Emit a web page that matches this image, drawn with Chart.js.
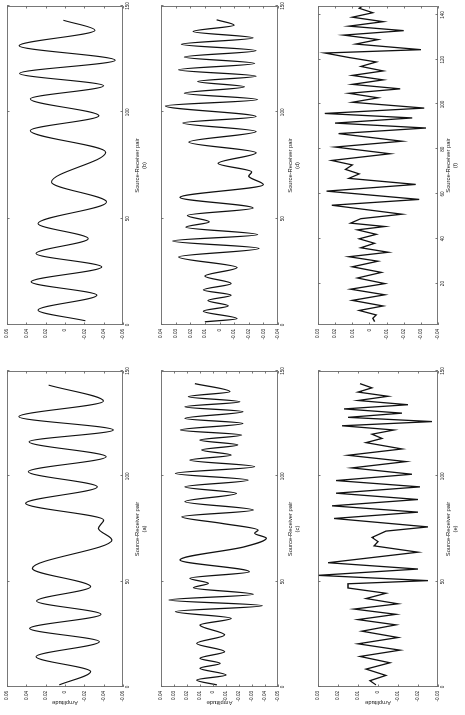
<!DOCTYPE html>
<html>
<head>
<meta charset="utf-8">
<script src="https://cdn.jsdelivr.net/npm/chart.js@4.4.1/dist/chart.umd.min.js"></script>
<style>
  html, body { margin: 0; padding: 0; background: #fff; overflow: hidden; }
  /* the figure is laid out upright (715 x 465) and turned a quarter left */
  #fig { position: absolute; left: 0; top: 0; width: 715px; height: 465px;
         transform-origin: 0 0; transform: translate(0, 715px) rotate(-90deg); }
  #fig canvas { position: absolute; }
</style>
</head>
<body>
<div id="fig">
  <canvas id="ca"></canvas><canvas id="cb"></canvas>
  <canvas id="cc"></canvas><canvas id="cd"></canvas>
  <canvas id="ce"></canvas><canvas id="cf"></canvas>
</div>
<script>
// (a)
const aX = [1, 7.3, 14.4, 21.5, 27.8, 34.5, 40.8, 47.6, 56.3, 69.8, 75.3, 79.3, 87.2, 95, 102.2, 109.3, 116.4, 122, 128.3, 135.7, 143.3];
const aY = [0.006, -0.0265, 0.030, -0.0356, 0.0366, -0.0373, 0.0295, -0.0265, 0.0337, -0.0485, -0.0345, -0.040, 0.0407, -0.0335, 0.038, -0.0426, 0.0373, -0.050, 0.0478, -0.0398, 0.017];
// (b)
const bX = [2, 7, 14, 20.3, 27.3, 33.6, 40.6, 47.7, 57.8, 67.2, 81.3, 91.4, 98.4, 106.3, 112.5, 118.3, 124.5, 131.3, 138.6, 143.3];
const bY = [-0.021, 0.028, -0.033, 0.035, -0.038, 0.030, -0.024, 0.028, -0.043, 0.014, -0.042, 0.036, -0.035, 0.036, -0.040, 0.047, -0.052, 0.0475, -0.031, 0.0017];
// (c)
const cX = [1, 3.3, 5.7, 8.9, 11.2, 13.6, 16.8, 20.7, 24.7, 29.4, 32.6, 35.8, 38.6, 41.3, 44, 47.1, 49.2, 51.6, 54.7, 60.3, 66.6, 70.6, 73, 74.5, 77.7, 80.8, 84, 88, 91.9, 95, 98.2, 101.4, 104.6, 107.7, 110.1, 112.5, 114.9, 117.2, 119.6, 122, 125.1, 127.5, 130.7, 133, 135.4, 137.8, 140.2, 144];
const cY = [-0.003, 0.0126, -0.010, 0.010, -0.0055, 0.010, -0.009, 0.0126, -0.009, 0.010, -0.014, 0.029, -0.038, 0.034, -0.031, 0.015, 0.0036, 0.0178, -0.028, 0.0254, -0.0244, -0.041, -0.032, -0.0347, -0.0065, 0.024, -0.031, 0.0216, -0.018, 0.0216, -0.027, 0.029, -0.032, 0.0178, -0.014, 0.0088, -0.019, 0.010, -0.022, 0.025, -0.023, 0.0216, -0.023, 0.0216, -0.0206, 0.019, -0.013, 0.014];
// (d)
const dX = [1.5, 3, 6.5, 9, 11.5, 14, 16.5, 19.5, 23, 27, 32, 36, 39.5, 42.5, 46, 48.5, 51.5, 55, 60, 66, 70, 72, 76, 81, 86, 91, 95, 98, 103, 106, 109, 112, 114.5, 117, 120, 123, 126, 129, 132, 135, 138, 141, 143.5];
const dY = [0.010, -0.012, 0.011, -0.006, 0.008, -0.008, 0.011, -0.008, 0.010, -0.012, 0.028, -0.027, 0.032, -0.026, 0.023, 0.007, 0.022, -0.023, 0.027, -0.030, -0.020, -0.022, 0.001, -0.025, 0.021, -0.025, 0.025, -0.025, 0.037, -0.026, 0.024, -0.017, 0.015, -0.025, 0.028, -0.024, 0.024, -0.025, 0.026, -0.023, 0.018, -0.010, 0.002];
// (e)
const eX = [1, 3, 5.5, 8.5, 11.5, 14.5, 17.5, 20.5, 23.5, 26.5, 29.5, 32, 34.5, 37, 39.5, 42, 44.5, 47, 49, 50.5, 53, 56, 59, 64, 67, 69, 71, 74, 76, 80, 83, 86, 89, 92, 95, 98, 101, 104, 107, 110, 113, 116, 118, 120, 122, 124, 126, 128, 130, 132, 134, 136, 138, 140, 142, 144];
const eY = [0.001, 0.004, -0.004, 0.006, -0.006, 0.009, -0.011, 0.010, -0.010, 0.008, -0.009, 0.010, -0.009, 0.012, -0.010, 0.006, -0.004, 0.015, 0.015, -0.025, 0.030, -0.020, 0.025, -0.020, 0.002, 0.000, 0.003, -0.004, -0.025, 0.022, -0.020, 0.023, -0.020, 0.021, -0.021, 0.021, -0.017, 0.013, -0.014, 0.015, -0.012, 0.006, -0.002, 0.003, -0.008, 0.018, -0.027, 0.015, -0.012, 0.017, -0.015, 0.010, -0.005, 0.010, 0.003, 0.009];
// (f)
const fX = [3, 4.5, 6, 8, 10, 12.5, 15, 17.5, 20, 22.5, 25, 27.5, 30, 32, 34, 36, 38, 40, 42, 44, 45.5, 47, 49, 51, 55, 57.6, 61.3, 64.3, 67, 69, 71, 73, 75, 78, 81, 83.6, 87, 89.5, 91.7, 94, 96, 98.4, 101, 103, 105, 107, 109, 111, 113, 115, 117, 119, 121, 123, 124.5, 127, 129, 131, 133, 135, 137, 139, 141, 143, 144];
const fY = [-0.003, -0.002, -0.004, 0.006, -0.008, 0.010, -0.009, 0.011, -0.009, 0.007, -0.007, 0.010, -0.005, 0.012, -0.011, 0.005, -0.003, 0.006, -0.004, 0.007, -0.009, 0.011, 0.005, -0.019, 0.022, -0.029, 0.025, -0.027, 0.012, 0.006, 0.014, 0.010, 0.022, -0.012, 0.020, -0.019, 0.018, -0.033, 0.020, -0.025, 0.026, -0.032, 0.010, -0.005, 0.012, -0.018, 0.010, -0.008, 0.010, -0.008, 0.005, -0.004, 0.012, 0.026, -0.030, 0.008, -0.005, 0.015, -0.020, 0.012, -0.008, 0.010, -0.002, 0.006, 0.004];

const xTicks = [0, 50, 100, 150];
const xTicksF = [20, 40, 60, 80, 100, 120, 140];

const FONT = 'Liberation Sans, Arial, sans-serif';

// Matlab-like box with inward ticks on all four sides
const boxTicks = {
  id: 'boxTicks',
  afterDatasetsDraw(chart) {
    const { ctx, chartArea: a, scales: { x, y } } = chart;
    const L = 2.5;
    ctx.save();
    ctx.strokeStyle = '#6a6a6a';
    ctx.lineWidth = 0.9;
    ctx.strokeRect(a.left + 0.5, a.top + 0.5, a.right - a.left - 1, a.bottom - a.top - 1);
    ctx.beginPath();
    x.ticks.forEach(t => {
      const p = Math.round(x.getPixelForValue(t.value)) + 0.5;
      ctx.moveTo(p, a.bottom); ctx.lineTo(p, a.bottom - L);
      ctx.moveTo(p, a.top); ctx.lineTo(p, a.top + L);
    });
    y.ticks.forEach(t => {
      const p = Math.round(y.getPixelForValue(t.value)) + 0.5;
      ctx.moveTo(a.left, p); ctx.lineTo(a.left + L, p);
      ctx.moveTo(a.right, p); ctx.lineTo(a.right - L, p);
    });
    ctx.stroke();
    ctx.restore();
  }
};

// frame: left, top, width, height of the plot box in the upright figure
function panel(id, X, Y, o) {
  const cv = document.getElementById(id);
  const W = o.w + 28 + 6, H = o.h + 7 + 32;
  cv.width = W; cv.height = H;
  cv.style.left = (o.l - 28) + 'px';
  cv.style.top = (o.t - 7) + 'px';
  const ticks = o.xt;
  new Chart(cv.getContext('2d'), {
    type: 'line',
    data: {
      datasets: [{
        data: X.map((x, i) => ({ x: x, y: Y[i] })),
        borderColor: '#111',
        borderWidth: o.lw,
        pointRadius: 0,
        fill: false,
        cubicInterpolationMode: o.smooth ? 'monotone' : 'default',
        tension: 0
      }]
    },
    options: {
      responsive: false,
      animation: false,
      events: [],
      layout: { padding: { top: 7, right: 6, left: 0, bottom: 0 } },
      plugins: { legend: { display: false }, tooltip: { enabled: false } },
      scales: {
        x: {
          type: 'linear',
          min: o.xmin, max: o.xmax,
          grid: { display: false, drawTicks: false },
          border: { display: false },
          afterFit: s => { s.height = 32; },
          afterBuildTicks: s => { s.ticks = ticks.map(v => ({ value: v })); },
          ticks: { padding: 2, maxRotation: 0, autoSkip: false, color: '#222',
                   font: { family: FONT, size: 4.6 } },
          title: { display: true, text: ['Source-Receiver pair', o.tag], color: '#222',
                   font: { family: FONT, size: 5.8, lineHeight: '7px' },
                   padding: { top: 0, bottom: o.tpad } }
        },
        y: {
          min: o.ymin, max: o.ymax,
          grid: { display: false, drawTicks: false },
          border: { display: false },
          afterFit: s => { s.width = 28; },
          afterBuildTicks: s => {
            const out = [];
            for (let v = o.ymax; v >= o.ymin - 1e-9; v -= o.step) out.push({ value: +v.toFixed(3) });
            s.ticks = out.reverse();
          },
          ticks: { padding: 4, color: '#222', font: { family: FONT, size: 4.6 },
                   callback: v => (Math.abs(v) < 1e-9 ? '0' : String(+v.toFixed(2))) },
          title: { display: o.amp, text: 'Amplitude', color: '#222',
                   font: { family: FONT, size: 5.8, lineHeight: '7px' },
                   padding: { top: 8.5, bottom: 0 } }
        }
      }
    },
    plugins: [boxTicks]
  });
}

panel('ca', aX, aY, { l: 28, t: 7, w: 316, h: 116, xmin: 0, xmax: 150, xt: xTicks, ymin: -0.06, ymax: 0.06, step: 0.02, tag: '(a)', amp: true, smooth: true, tpad: 7, lw: 1.1 });
panel('cb', bX, bY, { l: 390, t: 7, w: 319, h: 116, xmin: 0, xmax: 150, xt: xTicks, ymin: -0.06, ymax: 0.06, step: 0.02, tag: '(b)', amp: false, smooth: true, tpad: 7, lw: 1.1 });
panel('cc', cX, cY, { l: 28, t: 161, w: 316, h: 117, xmin: 0, xmax: 150, xt: xTicks, ymin: -0.05, ymax: 0.04, step: 0.01, tag: '(c)', amp: true, smooth: true, tpad: 9, lw: 1.3 });
panel('cd', dX, dY, { l: 390, t: 161, w: 319, h: 117, xmin: 0, xmax: 150, xt: xTicks, ymin: -0.04, ymax: 0.04, step: 0.01, tag: '(d)', amp: false, smooth: true, tpad: 9, lw: 1.3 });
panel('ce', eX, eY, { l: 28, t: 318, w: 316, h: 120, xmin: 0, xmax: 150, xt: xTicks, ymin: -0.03, ymax: 0.03, step: 0.01, tag: '(e)', amp: true, smooth: false, tpad: 11, lw: 1.3 });
panel('cf', fX, fY, { l: 390, t: 318, w: 319, h: 120, xmin: 1.5, xmax: 144, xt: xTicksF, ymin: -0.04, ymax: 0.03, step: 0.01, tag: '(f)', amp: false, smooth: false, tpad: 11, lw: 1.3 });
</script>
</body>
</html>
